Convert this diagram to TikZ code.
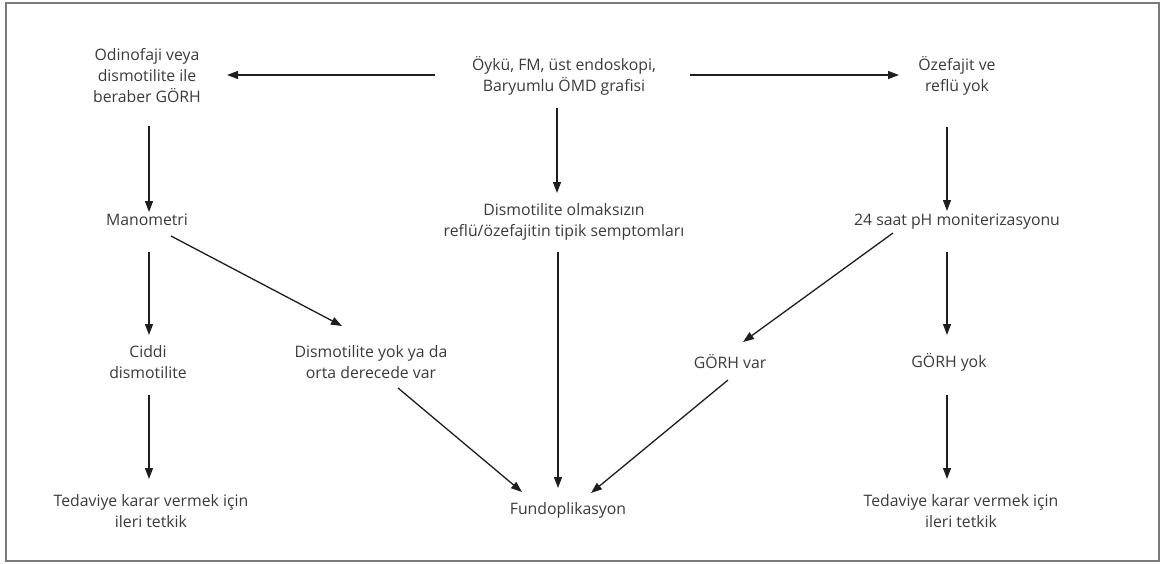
\documentclass[tikz,border=0pt]{standalone}
\usepackage{fontspec}
\setmainfont{Open Sans}
\usetikzlibrary{arrows.meta,calc}
\definecolor{txtgray}{HTML}{3A3A3A}
\definecolor{arrgray}{HTML}{1E1E1E}
\definecolor{framegray}{HTML}{7A7A7A}
\begin{document}
\begin{tikzpicture}[x=1pt,y=-1pt,
  lbl/.style={align=center,font=\fontsize{15.8}{21}\selectfont,text=txtgray,inner sep=0pt},
  arr/.style={-{Triangle[length=11pt,width=8pt]},line width=1.3pt,draw=arrgray}]
\useasboundingbox (0,0) rectangle (1161,563);
\draw[framegray,line width=1.8pt] (6,3) rectangle (1159,561);
% nodes
\node[lbl] (odi)   at (147,76)  {Odinofaji veya\\dismotilite ile\\beraber GÖRH};
\node[lbl] (oyku)  at (564,76)  {Öykü, FM, üst endoskopi,\\Baryumlu ÖMD grafisi};
\node[lbl] (oz)    at (957,76)  {Özefajit ve\\reflü yok};
\node[lbl] (mano)  at (147,220) {Manometri};
\node[lbl] (dism)  at (564,222) {Dismotilite olmaksızın\\reflü/özefajitin tipik semptomları};
\node[lbl] (ph)    at (957,222) {24 saat pH moniterizasyonu};
\node[lbl] (ciddi) at (148,362) {Ciddi\\dismotilite};
\node[lbl] (dyok)  at (371,362) {Dismotilite yok ya da\\orta derecede var};
\node[lbl] (gvar)  at (730,362) {GÖRH var};
\node[lbl] (gyok)  at (949,362) {GÖRH yok};
\node[lbl] (ted1)  at (151,511) {Tedaviye karar vermek için\\ileri tetkik};
\node[lbl] (fundo) at (568,510) {Fundoplikasyon};
\node[lbl] (ted2)  at (961,511) {Tedaviye karar vermek için\\ileri tetkik};
% connectors
\draw[arr] ($(oyku)+(-129,-1)$) -- ($(odi)+(80,-1)$);
\draw[arr] ($(oyku)+(126,-1)$) -- ($(oz)+(-58,-1)$);
\draw[arr] ($(oyku)+(-7,32)$) -- ($(dism)+(-7,-29)$);
\draw[arr] ($(odi)+(2,50)$) -- ($(mano)+(2,-8)$);
\draw[arr] ($(oz)+(-10,51)$) -- ($(ph)+(-10,-11)$);
\draw[arr] ($(mano)+(2,32)$) -- ($(ciddi)+(1,-27)$);
\draw[arr] ($(mano)+(24,16)$) -- ($(dyok)+(-29,-36)$);
\draw[arr] ($(dism)+(-6,30)$) -- ($(fundo)+(-10,-22)$);
\draw[arr] ($(ph)+(-64,11)$) -- ($(gvar)+(13,-20)$);
\draw[arr] ($(ph)+(-10,30)$) -- ($(gyok)+(-2,-27)$);
\draw[arr] ($(ciddi)+(1,33)$) -- ($(ted1)+(-2,-32)$);
\draw[arr] ($(dyok)+(27,26)$) -- ($(fundo)+(-46,-18)$);
\draw[arr] ($(gvar)+(-2,18)$) -- ($(fundo)+(23,-17)$);
\draw[arr] ($(gyok)+(-2,33)$) -- ($(ted2)+(-14,-32)$);
\end{tikzpicture}
\end{document}
